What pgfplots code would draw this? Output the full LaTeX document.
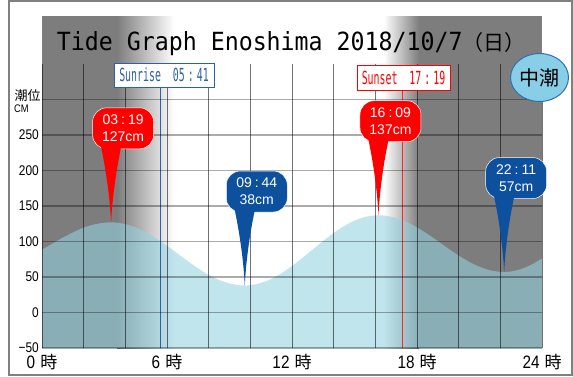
\documentclass[border=0pt]{standalone}
\usepackage{fontspec}
\usepackage{pgfplots}
\pgfplotsset{compat=1.18}
\newfontfamily\tickfont[FakeStretch=0.85]{Liberation Sans}
\newfontfamily\jpfont{Noto Sans CJK JP}
\newfontfamily\titlemono[FakeStretch=0.93]{DejaVu Sans Mono}
\newfontfamily\narrowmono[FakeStretch=0.55]{DejaVu Sans Mono}
\newfontfamily\calloutfont{Liberation Sans}
\definecolor{nightgray}{RGB}{125,125,125}
\definecolor{tidefill}{RGB}{148,210,224}
\definecolor{hired}{RGB}{255,0,0}
\definecolor{loblue}{RGB}{13,80,158}
\definecolor{sunblue}{RGB}{45,95,170}
\definecolor{chuchofill}{RGB}{135,206,230}
\definecolor{chuchoborder}{RGB}{45,110,180}
\definecolor{framegray}{RGB}{128,128,128}
\newcommand{\hr}[1]{{\tickfont\fontsize{18bp}{20bp}\selectfont #1}\hspace{5bp}{\jpfont\fontsize{17bp}{20bp}\selectfont 時}}
\newcommand{\callout}[4]{%
  \node[fill=#2, draw=white, line width=0.5bp, rounded corners=14bp, minimum width=61bp, minimum height=41bp, inner sep=0pt, text=white, align=center, font=\calloutfont\fontsize{14bp}{17bp}\selectfont] at ([xshift=12bp,yshift=94bp]#1) {#3\\#4};
  \fill[#2] ([xshift=-11bp,yshift=80bp]#1) .. controls ([xshift=-4bp,yshift=48bp]#1) and ([xshift=-1bp,yshift=20bp]#1) .. (#1) .. controls ([xshift=1bp,yshift=20bp]#1) and ([xshift=4bp,yshift=48bp]#1) .. ([xshift=11bp,yshift=80bp]#1) -- cycle;
}
\begin{document}
\begin{tikzpicture}[x=1bp,y=1bp]
\begin{axis}[
  at={(42bp,28bp)}, anchor=south west,
  width=500bp, height=284bp, scale only axis,
  xmin=0, xmax=24, ymin=-50, ymax=350,
  clip=false, axis on top,
  axis line style={draw=none},
  major tick length=0pt,
  xtick={0,2,...,24},
  xticklabels={\hr{0},,,\hr{6},,,\hr{12},,,\hr{18},,,\hr{24}},
  ytick={-50,0,50,100,150,200,250,300},
  yticklabels={−50,0,50,100,150,200,250,},
  xticklabel style={anchor=north, inner sep=0pt, yshift=-6bp},
  yticklabel style={font=\tickfont\fontsize{14bp}{16bp}\selectfont, anchor=east, inner sep=0pt, xshift=-3bp},
  grid=major,
  major grid style={draw=black},
  x grid style={draw=black, draw opacity=0.55, line width=0.9bp},
  y grid style={draw=black, draw opacity=0.33, line width=1.5bp},
]
% night shading
\fill[nightgray] (axis cs:0,-50) rectangle (axis cs:3.6,417);
\shade[left color=nightgray, right color=white] (axis cs:3.6,-50) rectangle (axis cs:6.35,417);
\shade[left color=white, right color=nightgray] (axis cs:16.4,-50) rectangle (axis cs:18.1,417);
\fill[nightgray] (axis cs:18.1,-50) rectangle (axis cs:24,417);
% tide
\addplot[draw=none, fill=tidefill, fill opacity=0.58, smooth] coordinates {
(0,88.5) (0.5,97) (1,105.5) (1.5,113) (2,119.5) (2.5,124) (3,126.5) (3.317,127)
(3.5,126.8) (4,124.5) (4.5,119.7) (5,112.7) (5.5,104) (6,93.8) (6.5,83) (7,72.3)
(7.5,62) (8,53) (8.5,45.9) (9,40.9) (9.5,38.3) (9.733,38) (10,38.4) (10.5,41.5)
(11,47.2) (11.5,55.4) (12,65.5) (12.5,76.9) (13,88.9) (13.5,100.9) (14,112)
(14.5,121.7) (15,129.4) (15.5,134.5) (16,136.9) (16.15,137) (16.5,136.3) (17,133.1)
(17.5,127.5) (18,119.8) (18.5,110.6) (19,100.5) (19.5,90.1) (20,80.2) (20.5,71.4)
(21,64.4) (21.5,59.5) (22,57.2) (22.183,57) (22.5,57.7) (23,61.2) (23.5,67.5) (24,76)
} -- (axis cs:24,-50) -- (axis cs:0,-50) -- cycle;
% sunrise / sunset lines
\addplot[sunblue, line width=1bp] coordinates {(5.683,-50) (5.683,316)};
\addplot[hired!85!white, line width=1bp] coordinates {(17.317,-50) (17.317,312)};
% extremes
\coordinate (hA) at (axis cs:3.317,127);
\coordinate (lA) at (axis cs:9.733,38);
\coordinate (hB) at (axis cs:16.15,137);
\coordinate (lB) at (axis cs:22.183,57);
\coordinate (O) at (axis cs:0,-50);
\end{axis}
\begin{scope}[shift={(O)}, xshift=-42bp, yshift=-28bp]
\path[use as bounding box] (0,0) rectangle (573,376);
% callouts
\callout{hA}{hired}{03\hspace{3bp}:\hspace{3bp}19}{127cm}
\callout{lA}{loblue}{09\hspace{3bp}:\hspace{3bp}44}{38cm}
\callout{hB}{hired}{16\hspace{3bp}:\hspace{3bp}09}{137cm}
\callout{lB}{loblue}{22\hspace{3bp}:\hspace{3bp}11}{57cm}
% sunrise / sunset boxes
\node[draw=sunblue, fill=white, line width=1bp, minimum width=100bp, minimum height=24bp, inner sep=0pt, text=sunblue] at (164,301)
  {\narrowmono\fontsize{18bp}{20bp}\selectfont Sunrise\ \ 05\hspace{3bp}:\hspace{3bp}41};
\node[draw=hired, fill=white, line width=1bp, minimum width=93bp, minimum height=25bp, inner sep=0pt, text=hired] at (403.5,298.5)
  {\narrowmono\fontsize{18bp}{20bp}\selectfont Sunset\ \ 17\hspace{3bp}:\hspace{3bp}19};
% title
\node[anchor=base west, inner sep=0pt] at (56.6,326)
  {\titlemono\fontsize{25bp}{30bp}\selectfont Tide Graph Enoshima 2018/10/7{\jpfont\fontsize{21bp}{25bp}\selectfont （日）}};
% tide type
\draw[fill=chuchofill, draw=chuchoborder, line width=1bp] (539.5,298.5) ellipse [x radius=29, y radius=24];
\node[inner sep=0pt] at (539.5,298.5) {\jpfont\fontsize{20bp}{24bp}\selectfont 中潮};
% y label
\node[inner sep=0pt] at (27.5,280) {\jpfont\fontsize{13bp}{15bp}\selectfont 潮位};
\node[anchor=west, inner sep=0pt] at (14,267) {\tickfont\fontsize{11bp}{13bp}\selectfont CM};
% frame
\draw[framegray, line width=2bp] (9,1) -- (9,375) -- (571.5,375) -- (571.5,1) -- cycle;
\end{scope}
\end{tikzpicture}
\end{document}
